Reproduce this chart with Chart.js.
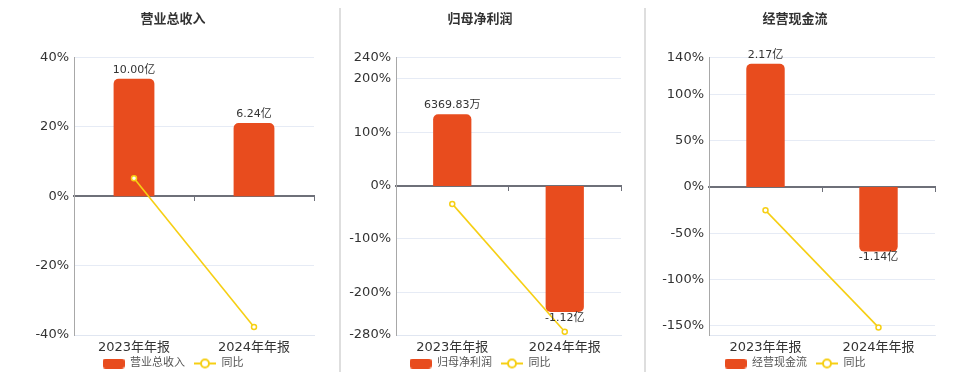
<!DOCTYPE html>
<html>
<head>
<meta charset="utf-8">
<script src="https://cdn.jsdelivr.net/npm/chart.js@4/dist/chart.umd.min.js"></script>
<style>
  html, body { margin: 0; padding: 0; background: #fff; }
  #wrap { position: relative; width: 960px; height: 372px; overflow: hidden; }
  .box { position: absolute; top: 0; height: 372px; }
  .sep { position: absolute; top: 8px; width: 2px; height: 364px; background: #dedede; }
</style>
</head>
<body>
<div id="wrap">
  <div class="box" style="left:0;width:340px"><canvas id="c1"></canvas></div>
  <div class="box" style="left:335px;width:310px"><canvas id="c2"></canvas></div>
  <div class="box" style="left:640px;width:320px"><canvas id="c3"></canvas></div>
  <div class="sep" style="left:339px"></div>
  <div class="sep" style="left:644px"></div>
</div>
<script>
// data, amounts in 亿, growth in %
var categories = ['2023年年报', '2024年年报'];
var titles = ['营业总收入', '归母净利润', '经营现金流'];

var revenue = [10.00, 6.24];
var revenueYoY = [5.2, -37.7];
var revenueTicks = [40, 20, 0, -20, -40];

var netProfit = [0.636983, -1.12];
var netProfitYoY = [-34.2, -274];
var netProfitTicks = [240, 200, 100, 0, -100, -200, -280];

var cashFlow = [2.17, -1.14];
var cashFlowYoY = [-25.2, -151.8];
var cashFlowTicks = [140, 100, 50, 0, -50, -100, -150];

var BAR_COLOR = '#e84c1e';
var LINE_COLOR = '#f6cf14';
var FONT = '"DejaVu Sans", "Noto Sans CJK SC", sans-serif';

Chart.defaults.font.family = FONT;
Chart.defaults.color = '#333';

function fmtAmount(v) {
    if (Math.abs(v) < 1) {
        return (v * 10000).toFixed(2) + '万';
    }
    return v.toFixed(2) + '亿';
}

// legend icons
function barIcon() {
    var c = document.createElement('canvas');
    c.width = 22; c.height = 10;
    var ctx = c.getContext('2d');
    ctx.fillStyle = BAR_COLOR;
    ctx.beginPath();
    ctx.roundRect(0, 0, 22, 10, 3);
    ctx.fill();
    return c;
}

function lineIcon() {
    var c = document.createElement('canvas');
    c.width = 22; c.height = 12;
    var ctx = c.getContext('2d');
    ctx.strokeStyle = LINE_COLOR;
    ctx.lineWidth = 2;
    ctx.beginPath();
    ctx.moveTo(0, 6); ctx.lineTo(22, 6);
    ctx.stroke();
    ctx.fillStyle = '#fff';
    ctx.beginPath();
    ctx.arc(11, 6, 4, 0, Math.PI * 2);
    ctx.fill();
    ctx.stroke();
    return c;
}

// amount labels on the bars
var barLabels = {
    id: 'barLabels',
    afterDatasetsDraw: function (chart) {
        var ctx = chart.ctx;
        var meta = chart.getDatasetMeta(0);
        var data = chart.data.datasets[0].data;
        ctx.save();
        ctx.font = '11px ' + FONT;
        ctx.fillStyle = '#333';
        ctx.textAlign = 'center';
        ctx.textBaseline = 'middle';
        meta.data.forEach(function (bar, i) {
            var v = data[i];
            var y = v >= 0 ? bar.y - 9 : bar.y + 6;
            ctx.fillText(fmtAmount(v), bar.x, y);
        });
        ctx.restore();
    }
};

function makeChart(id, title, bars, yoy, ticks, pctRange, barRange, pad, axisWidth) {
    var config = {
        data: {
            labels: categories,
            datasets: [{
                type: 'bar',
                label: title,
                data: bars,
                yAxisID: 'y1',
                backgroundColor: BAR_COLOR,
                borderRadius: 5,
                borderSkipped: 'start',
                barPercentage: 0.34,
                categoryPercentage: 1,
                order: 2,
            }, {
                type: 'line',
                label: '同比',
                data: yoy,
                yAxisID: 'y',
                borderColor: LINE_COLOR,
                borderWidth: 1.6,
                pointRadius: 2.5,
                pointBorderWidth: 1.5,
                pointBackgroundColor: '#fff',
                pointBorderColor: LINE_COLOR,
                order: 1,
            }]
        },
        options: {
            responsive: false,
            animation: false,
            layout: { padding: { left: pad[0], right: pad[1], top: 0, bottom: -7 } },
            plugins: {
                title: {
                    display: true,
                    text: title,
                    color: '#333',
                    font: { size: 13, weight: 'bold' },
                    padding: { top: 12, bottom: 30 },
                },
                legend: {
                    position: 'bottom',
                    labels: {
                        usePointStyle: true,
                        pointStyleWidth: 22,
                        boxHeight: 10,
                        padding: 2,
                        color: '#555',
                        font: { size: 11 },
                        generateLabels: function (chart) {
                            // trailing spaces give the gap between the two items
                            return [
                                { text: title + '  ', pointStyle: barIcon(), datasetIndex: 0, fontColor: '#555' },
                                { text: '同比', pointStyle: lineIcon(), datasetIndex: 1, fontColor: '#555' },
                            ];
                        }
                    }
                },
                tooltip: { enabled: false },
            },
            scales: {
                x: {
                    position: 'bottom',
                    grid: { display: false, drawTicks: false },
                    border: { color: '#e0e6f1' },
                    ticks: { font: { size: 13 }, color: '#333', padding: 5 },
                    afterFit: function (scale) { scale.height = 21; },
                },
                x2: {
                    type: 'category',
                    position: { y: 0 },
                    offset: true,
                    grid: { offset: true, drawOnChartArea: false, drawTicks: true, tickLength: 4, color: '#6e7079' },
                    border: { color: '#6e7079', width: 2 },
                    ticks: { display: false },
                },
                y: {
                    min: pctRange[0],
                    max: pctRange[1],
                    afterBuildTicks: function (scale) {
                        scale.ticks = ticks.map(function (v) { return { value: v }; });
                    },
                    afterFit: function (scale) { scale.width = axisWidth; },
                    grid: { color: '#e6ebf5', drawTicks: false },
                    border: { color: '#a8a8a8' },
                    ticks: {
                        font: { size: 13 },
                        color: '#333',
                        padding: 5,
                        callback: function (v) { return v + '%'; }
                    },
                },
                y1: {
                    display: false,
                    min: barRange[0],
                    max: barRange[1],
                }
            }
        },
        plugins: [barLabels]
    };
    var canvas = document.getElementById(id);
    canvas.width = canvas.parentNode.clientWidth;
    canvas.height = 372;
    return new Chart(canvas, config);
}

makeChart('c1', titles[0], revenue, revenueYoY, revenueTicks, [-40, 40], [-11.8, 11.8], [32, 26], 42);
makeChart('c2', titles[1], netProfit, netProfitYoY, netProfitTicks, [-280, 240], [-1.325, 1.14], [4, 24], 57);
makeChart('c3', titles[2], cashFlow, cashFlowYoY, cashFlowTicks, [-160, 140], [-2.61, 2.28], [15, 25], 54);
</script>
</body>
</html>
